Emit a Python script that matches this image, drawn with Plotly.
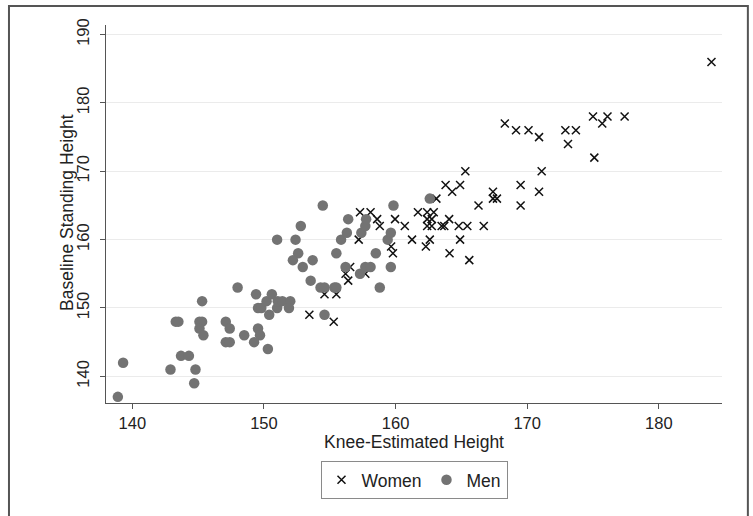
import plotly.graph_objects as go

# Women (x markers)
women_knee = [153.45, 155.3, 154.6, 155.5, 156.2, 156.4, 156.55, 157.7, 157.2, 157.3,
              158.1, 158.6, 158.8, 159.66, 159.8, 159.96, 160.7, 161.25, 161.7, 162.3,
              162.6, 162.4, 162.9, 162.4, 162.75, 162.4, 162.75, 163.5, 163.7, 163.1,
              164.07, 164.1, 164.8, 165.45, 164.9, 165.6, 163.8, 164.9, 164.3, 165.3,
              166.3, 166.7, 167.4, 167.4, 167.7, 168.3, 169.15, 170.1, 170.9, 169.5,
              169.5, 170.9, 171.1, 172.9, 173.7, 173.1, 175.0, 175.7, 176.1, 177.4,
              175.1, 184.0]
women_stand = [149, 148, 152, 152, 155, 154, 156, 155, 160, 164,
               164, 163, 162, 159, 158, 163, 162, 160, 164, 159,
               160, 164, 164, 163, 163, 162, 162, 162, 162, 166,
               163, 158, 162, 162, 160, 157, 168, 168, 167, 170,
               165, 162, 167, 166, 166, 177, 176, 176, 175, 168,
               165, 167, 170, 176, 176, 174, 178, 177, 178, 178,
               172, 186]

# Men (filled circles)
men_knee = [138.9, 139.3, 142.9, 143.3, 143.5, 143.7, 144.3, 144.7, 144.8, 145.3,
            145.1, 145.3, 145.1, 145.4, 147.1, 147.4, 147.1, 147.4, 148.0, 148.5,
            149.4, 149.55, 149.8, 149.55, 149.7, 149.25, 150.2, 150.6, 150.4, 150.3,
            151.0, 151.05, 151.4, 152.0, 151.9, 151.0, 152.4, 152.8, 152.6, 152.2,
            153.7, 152.95, 153.55, 154.47, 154.3, 154.6, 155.35, 155.5, 154.6, 155.5,
            155.86, 156.2, 156.3, 156.4, 157.3, 157.4, 157.7, 157.76, 157.7, 158.1,
            158.5, 158.8, 159.4, 159.64, 159.64, 159.84, 162.6]
men_stand = [137, 142, 141, 148, 148, 143, 143, 139, 141, 151,
             148, 148, 147, 146, 148, 147, 145, 145, 153, 146,
             152, 150, 150, 147, 146, 145, 151, 152, 149, 144,
             150, 151, 151, 151, 150, 160, 160, 162, 158, 157,
             157, 156, 154, 165, 153, 153, 153, 153, 149, 158,
             160, 156, 161, 163, 155, 161, 162, 163, 156, 156,
             158, 153, 160, 161, 156, 165, 166]

x_ticks = [140, 150, 160, 170, 180]
y_ticks = [140, 150, 160, 170, 180, 190]

FONT = "Liberation Sans, Arial, Helvetica, sans-serif"

fig = go.Figure()
fig.add_trace(go.Scatter(
    x=women_knee, y=women_stand, mode="markers", name="Women",
    marker=dict(symbol="x-thin", size=8, color="#111111",
                line=dict(color="#111111", width=1.5)),
))
fig.add_trace(go.Scatter(
    x=men_knee, y=men_stand, mode="markers", name="Men",
    marker=dict(symbol="circle", size=10.5, color="#737373", line=dict(width=0)),
))

fig.update_layout(
    width=753, height=516,
    margin=dict(l=106, r=31, t=25, b=113, autoexpand=False),
    paper_bgcolor="white", plot_bgcolor="white",
    font=dict(family=FONT, size=16.5, color="#222222"),
    showlegend=True,
    legend=dict(orientation="h", x=0.5, xanchor="center", y=-0.153, yanchor="top",
                bordercolor="#8a8a8a", borderwidth=1, font=dict(size=17.5),
                itemwidth=30, traceorder="normal"),
    xaxis=dict(range=[138.0, 184.8], tickvals=x_ticks, ticks="outside", ticklen=5,
               tickcolor="#555", showline=True, linecolor="#555", linewidth=1,
               showgrid=False, zeroline=False, automargin=False,
               tickfont=dict(size=16.5),
               title=dict(text="Knee-Estimated Height", standoff=3,
                          font=dict(size=17.5))),
    yaxis=dict(range=[136.1, 191.4], tickvals=y_ticks, ticks="outside", ticklen=5,
               tickcolor="#555", showline=True, linecolor="#555", linewidth=1,
               showgrid=True, gridcolor="#ebebeb", gridwidth=1, zeroline=False,
               tickangle=-90, automargin=False, ticklabelstandoff=4,
               tickfont=dict(size=16.5)),
    annotations=[dict(text="Baseline Standing Height", xref="paper", yref="paper",
                      x=-0.0625, y=0.504, xanchor="center", yanchor="middle",
                      textangle=-90, showarrow=False,
                      font=dict(family=FONT, size=17.5, color="#222222"))],
    shapes=[dict(type="rect", xref="paper", yref="paper",
                 x0=-0.1575, x1=1.042, y0=-0.34, y1=1.05,
                 line=dict(color="#555555", width=2), fillcolor="rgba(0,0,0,0)",
                 layer="below")],
)

fig.write_html("out.html", config={"displayModeBar": False},
               post_script="document.body.style.margin='0';document.body.style.overflow='hidden';")
